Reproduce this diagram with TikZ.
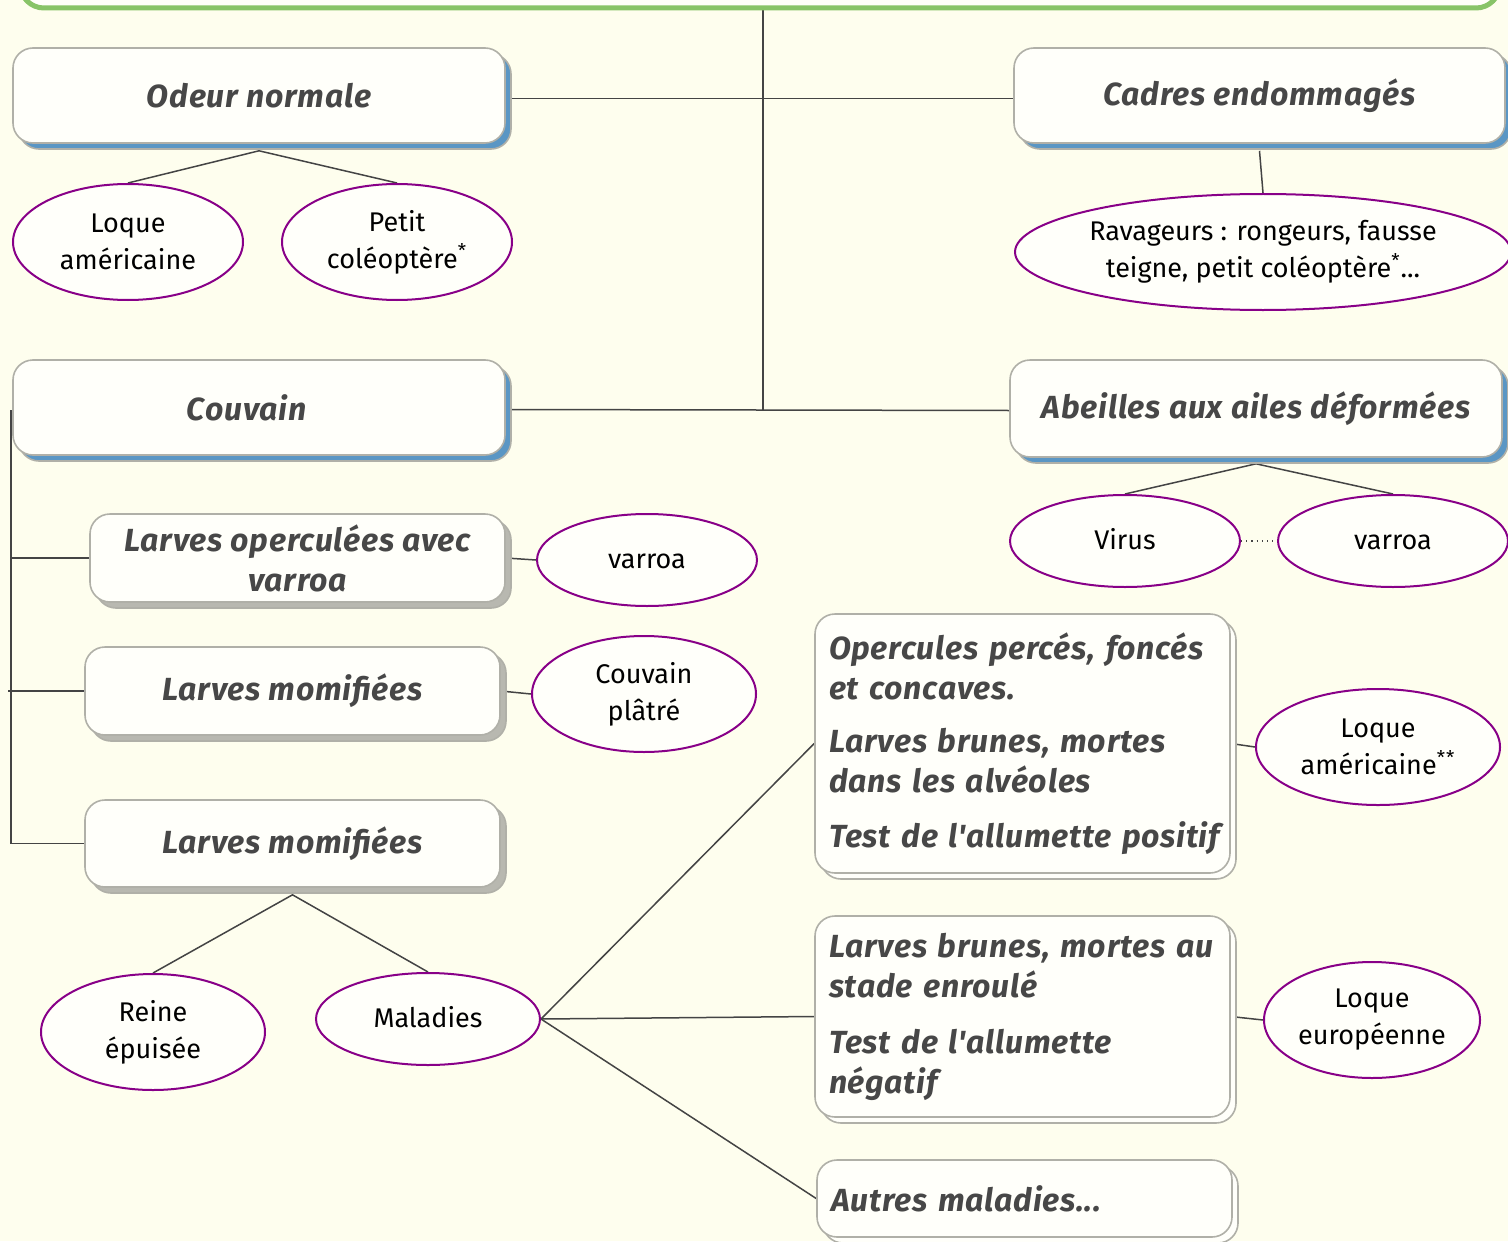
\documentclass[tikz,border=0pt]{standalone}
\usepackage{fontspec}
\setmainfont{Fira Sans}
\newfontfamily\boxfont[LetterSpace=2.5]{Fira Sans}
\usetikzlibrary{shadows,shapes.geometric,calc}
\definecolor{bgc}{HTML}{FEFEEE}
\definecolor{boxfill}{HTML}{FFFFFA}
\definecolor{boxline}{HTML}{B0B0A8}
\definecolor{shblue}{HTML}{5A96C4}
\definecolor{shgray}{HTML}{B8B8B0}
\definecolor{txt}{HTML}{474747}
\definecolor{ell}{HTML}{880088}
\definecolor{lin}{HTML}{444444}
\definecolor{grn}{HTML}{88C468}
\newcommand{\apos}{{\char"0027}}
\newcommand{\sast}{\textsuperscript{*}}
\pgfdeclarelayer{bg}\pgfdeclarelayer{lines}\pgfsetlayers{bg,lines,main}
\begin{document}
\begin{tikzpicture}[x=0.5pt,y=-0.5pt,
 box/.style={rectangle, rounded corners=10pt, draw=boxline, line width=0.8pt, fill=boxfill, text=txt,
   font=\boxfont\fontsize{16}{20}\selectfont\bfseries\itshape, align=center, inner sep=0pt},
 bluebox/.style={box, general shadow={shadow xshift=3pt, shadow yshift=-3pt, fill=shblue, draw=boxline, line width=0.8pt}},
 graybox/.style={box, general shadow={shadow xshift=3pt, shadow yshift=-3pt, fill=shgray, draw=boxline, line width=0.8pt}},
 copybox/.style={box, align=left, general shadow={shadow xshift=3pt, shadow yshift=-3pt, fill=boxfill, draw=boxline, line width=0.8pt}},
 oval/.style={ellipse, draw=ell, line width=1pt, fill=boxfill, inner sep=0pt, text=black, align=center,
   font=\fontsize{13.5}{18.5}\selectfont},
 oneline/.style={text height=1.8ex, text depth=0.2ex},
 conn/.style={draw=lin, line width=0.75pt}]
\useasboundingbox (0,0) rectangle (1508,1241);
\begin{pgfonlayer}{bg}
\fill[bgc] (0,0) rectangle (1508,1241);
\end{pgfonlayer}
% top box (only its bottom edge shows)
\draw[grn, line width=2.5pt, fill=boxfill, rounded corners=12pt] (20,-60) rectangle (1500,8);
\coordinate (topb) at (763,10);
\coordinate (hub) at (763,410);

% level 1 boxes
\node[bluebox, minimum width=246pt, minimum height=47.5pt] (odeur) at (259,95.5) {Odeur normale};
\node[bluebox, minimum width=245.5pt, minimum height=47.5pt] (cadres) at (1259.5,95.5) {Cadres endommagés};
\node[bluebox, minimum width=246pt, minimum height=47.5pt, text width=234pt, align=left] (couvain) at (259,407.5) {\hspace*{81pt}Couvain};
\node[bluebox, minimum width=246pt, minimum height=48.5pt] (abeilles) at (1256,408.5) {Abeilles aux ailes déformées};

% level 2 boxes
\node[graybox, minimum width=207.5pt, minimum height=44pt] (lov) at (297.5,558) {Larves operculées avec\\varroa};
\node[graybox, minimum width=207.5pt, minimum height=44pt] (lm1) at (292.5,691) {Larves momifiées};
\node[graybox, minimum width=207.5pt, minimum height=43.5pt] (lm2) at (292.5,843.5) {Larves momifiées};

\node[copybox, text width=193.5pt, inner xsep=7pt, minimum height=129.5pt] (op) at (1022.5,743.5)
 {Opercules percés, foncés\\[0pt]et concaves.\\[6.5pt]Larves brunes, mortes\\dans les alvéoles\\[7.5pt]\mbox{Test de l\apos allumette positif}};
\node[copybox, text width=193.5pt, inner xsep=7pt, minimum height=100.5pt] (lb) at (1022.5,1016.5)
 {Larves brunes, mortes au\\stade enroulé\\[8pt]Test de l\apos allumette\\négatif};
\node[copybox, text width=193.5pt, inner xsep=7pt, minimum height=38.5pt] (autres) at (1024.5,1198.5)
 {Autres maladies...};

% ellipses
\node[oval, minimum width=115pt, minimum height=58pt] (loque1) at (128,242) {Loque\\américaine};
\node[oval, minimum width=115pt, minimum height=58pt] (petit) at (397,242) {Petit\\coléoptère\sast};
\node[oval, minimum width=248pt, minimum height=58pt] (ravag) at (1263,252) {Ravageurs : rongeurs, fausse\\teigne, petit coléoptère\sast...};
\node[oval, oneline, minimum width=115pt, minimum height=46pt] (virus) at (1125,541) {Virus};
\node[oval, oneline, minimum width=115pt, minimum height=46pt] (varroa2) at (1393,541) {varroa};
\node[oval, oneline, minimum width=110pt, minimum height=46pt] (varroa1) at (647,560) {varroa};
\node[oval, minimum width=112pt, minimum height=58pt] (platre) at (644,694) {Couvain\\plâtré};
\node[oval, minimum width=112pt, minimum height=58pt] (reine) at (153,1032) {Reine\\épuisée};
\node[oval, oneline, minimum width=112pt, minimum height=46pt] (maladies) at (428,1019) {Maladies};
\node[oval, minimum width=122pt, minimum height=58pt] (loque2) at (1378,747) {Loque\\américaine\sast\sast};
\node[oval, minimum width=108pt, minimum height=58pt] (loqueeu) at (1372,1020) {Loque\\européenne};

% connectors
\begin{pgfonlayer}{lines}
\draw[conn] (topb) -- (hub);
\draw[conn] ([yshift=-1.5pt]odeur.east) -- ([yshift=-1.5pt]cadres.west);
\draw[conn] ([yshift=-1pt]couvain.east) -- ([yshift=-1pt]abeilles.west);
\coordinate (odB) at ([yshift=-3.5pt]odeur.south);
\draw[conn] (loque1.north) -- (odB) -- (petit.north);
\draw[conn] ([yshift=-3.5pt]cadres.south) -- (ravag.north);
\coordinate (abB) at ([yshift=-3pt]abeilles.south);
\draw[conn] (virus.north) -- (abB) -- (varroa2.north);
\draw[lin, line width=0.6pt, dotted] (virus.east) -- (varroa2.west);
\coordinate (sp) at (11,410);
\draw[conn] (sp) |- (lm2.west);
\draw[conn] (sp |- lov.west) -- (lov.west);
\draw[conn] ([xshift=-1.5pt]sp |- lm1.west) -- (lm1.west);
\draw[conn] (lov.east) -- (varroa1.west);
\draw[conn] (lm1.east) -- (platre.west);
\coordinate (lmB) at ([yshift=-3.5pt]lm2.south);
\draw[conn] (reine.north) -- (lmB) -- (maladies.north);
\draw[conn] (maladies.east) -- (op.west);
\draw[conn] (maladies.east) -- (lb.west);
\draw[conn] (maladies.east) -- (autres.west);
\draw[conn] (op.east) -- (loque2.west);
\draw[conn] (lb.east) -- (loqueeu.west);
\end{pgfonlayer}
\end{tikzpicture}
\end{document}
